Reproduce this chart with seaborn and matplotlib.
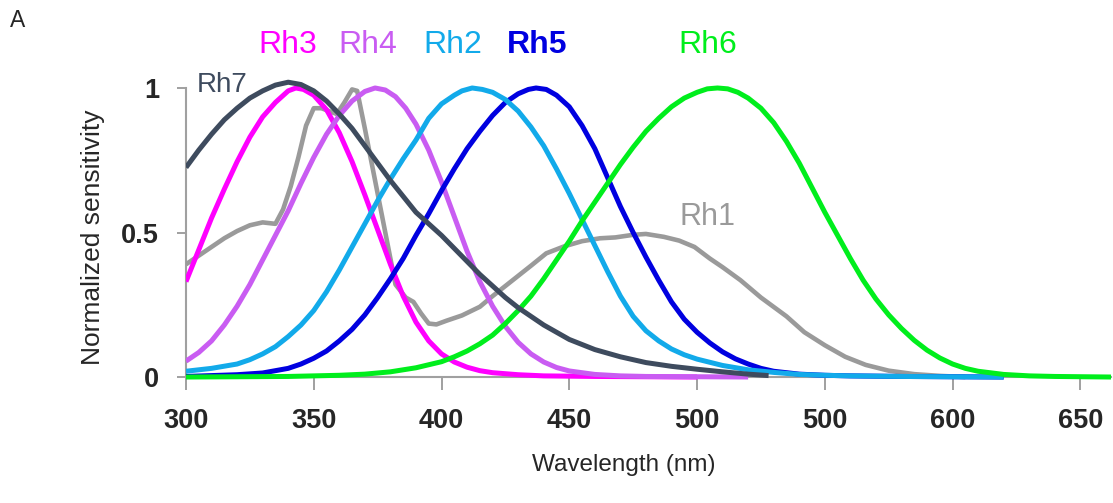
import pandas as pd
import matplotlib
matplotlib.use("Agg")
import matplotlib.pyplot as plt
import seaborn as sns

# Values (wavelength in nm, normalized sensitivity)
rh1_wl = [300, 305, 310, 315, 320, 325, 330, 335, 338, 341, 344, 347, 350, 353, 356, 359,
          362, 365, 367, 370, 374, 378, 382, 386, 389, 392, 395, 398, 402, 408, 415, 420,
          428, 435, 441, 448, 455, 462, 468, 475, 480, 487, 493, 499, 505, 510, 517, 525,
          535, 542, 550, 558, 566, 575, 585, 595, 605]
rh1_val = [0.39, 0.42, 0.45, 0.48, 0.505, 0.525, 0.535, 0.53, 0.58, 0.66, 0.76, 0.87, 0.93, 0.93, 0.92, 0.91,
           0.95, 0.995, 0.99, 0.86, 0.68, 0.50, 0.32, 0.275, 0.26, 0.22, 0.185, 0.182, 0.195, 0.213, 0.243, 0.28,
           0.336, 0.385, 0.428, 0.452, 0.47, 0.48, 0.483, 0.492, 0.495, 0.485, 0.472, 0.45, 0.41, 0.38, 0.335, 0.275,
           0.21, 0.155, 0.11, 0.07, 0.042, 0.022, 0.01, 0.004, 0.0]

rh3_wl = [300, 305, 310, 315, 320, 325, 330, 335, 340, 343, 346, 350, 355, 360, 365, 370,
          375, 380, 385, 390, 395, 400, 405, 410, 415, 420, 430, 440, 460, 480, 500]
rh3_val = [0.33, 0.44, 0.55, 0.65, 0.745, 0.83, 0.90, 0.95, 0.99, 1.0, 0.995, 0.975, 0.925, 0.845, 0.745, 0.63,
           0.51, 0.39, 0.28, 0.19, 0.125, 0.08, 0.052, 0.034, 0.022, 0.015, 0.008, 0.004, 0.002, 0.001, 0.0]

rh4_wl = [300, 305, 310, 315, 320, 325, 330, 335, 340, 345, 350, 355, 360, 365, 370, 374,
          378, 382, 386, 390, 395, 400, 405, 410, 415, 420, 425, 430, 435, 440, 445, 450,
          460, 470, 480, 500, 520]
rh4_val = [0.055, 0.085, 0.125, 0.18, 0.245, 0.32, 0.405, 0.49, 0.575, 0.67, 0.76, 0.84, 0.905, 0.955, 0.988, 1.0,
           0.993, 0.97, 0.93, 0.875, 0.785, 0.675, 0.555, 0.435, 0.33, 0.245, 0.175, 0.12, 0.08, 0.052, 0.033, 0.021,
           0.009, 0.004, 0.002, 0.001, 0.0]

rh2_wl = [300, 310, 320, 325, 330, 335, 340, 345, 350, 355, 360, 365, 370, 375, 380, 385,
          390, 395, 400, 405, 408, 412, 416, 420, 425, 430, 435, 440, 445, 450, 455, 460,
          465, 470, 475, 480, 485, 490, 495, 500, 510, 520, 530, 540, 550, 560, 580, 600, 620]
rh2_val = [0.02, 0.03, 0.045, 0.06, 0.08, 0.105, 0.14, 0.18, 0.23, 0.295, 0.37, 0.45, 0.53, 0.61, 0.685, 0.755,
           0.82, 0.895, 0.945, 0.975, 0.99, 1.0, 0.995, 0.985, 0.96, 0.92, 0.865, 0.80, 0.72, 0.635, 0.545, 0.455,
           0.365, 0.28, 0.21, 0.16, 0.125, 0.097, 0.077, 0.062, 0.04, 0.025, 0.016, 0.009, 0.006, 0.004, 0.002, 0.001, 0.0]

rh5_wl = [300, 310, 320, 330, 340, 345, 350, 355, 360, 365, 370, 375, 380, 385, 390, 395,
          400, 405, 410, 415, 420, 425, 430, 434, 437, 441, 445, 450, 455, 460, 465, 470,
          475, 480, 485, 490, 495, 500, 505, 510, 515, 520, 525, 530, 540, 550, 560, 580, 600, 620]
rh5_val = [0.002, 0.005, 0.008, 0.014, 0.03, 0.045, 0.065, 0.09, 0.125, 0.165, 0.215, 0.275, 0.34, 0.41, 0.49, 0.565,
           0.645, 0.72, 0.79, 0.85, 0.905, 0.95, 0.98, 0.995, 1.0, 0.995, 0.975, 0.935, 0.87, 0.79, 0.69, 0.59,
           0.50, 0.415, 0.335, 0.26, 0.20, 0.155, 0.118, 0.087, 0.063, 0.045, 0.03, 0.02, 0.01, 0.006, 0.004, 0.002, 0.001, 0.0]

rh6_wl = [300, 320, 340, 360, 370, 380, 390, 400, 405, 410, 415, 420, 425, 430, 435, 440,
          445, 450, 455, 460, 465, 470, 475, 480, 485, 490, 495, 500, 504, 508, 512, 516,
          520, 525, 530, 535, 540, 545, 550, 555, 560, 565, 570, 575, 580, 585, 590, 595,
          600, 605, 610, 620, 630, 640, 662]
rh6_val = [0.0, 0.001, 0.002, 0.006, 0.01, 0.018, 0.032, 0.053, 0.07, 0.09, 0.115, 0.145, 0.185, 0.23, 0.28, 0.34,
           0.405, 0.47, 0.54, 0.605, 0.67, 0.735, 0.795, 0.85, 0.895, 0.935, 0.965, 0.985, 0.997, 1.0, 0.997, 0.985,
           0.965, 0.93, 0.88, 0.815, 0.74, 0.655, 0.57, 0.49, 0.41, 0.335, 0.27, 0.215, 0.168, 0.127, 0.093, 0.066,
           0.045, 0.03, 0.02, 0.009, 0.004, 0.002, 0.0]

rh7_wl = [300, 305, 310, 315, 320, 325, 330, 335, 340, 345, 350, 355, 360, 365, 370, 375,
          380, 385, 390, 395, 400, 405, 410, 415, 420, 425, 430, 435, 440, 445, 450, 460,
          470, 480, 490, 500, 510, 520, 528]
rh7_val = [0.725, 0.785, 0.84, 0.89, 0.93, 0.965, 0.99, 1.01, 1.02, 1.012, 0.99, 0.955, 0.91, 0.86, 0.80, 0.74,
           0.68, 0.625, 0.57, 0.53, 0.49, 0.445, 0.40, 0.355, 0.315, 0.275, 0.24, 0.21, 0.18, 0.155, 0.13, 0.095,
           0.07, 0.05, 0.037, 0.027, 0.018, 0.01, 0.005]

opsins = ["Rh1", "Rh3", "Rh4", "Rh5", "Rh2", "Rh6", "Rh7"]
colors = {"Rh1": "#9a9a9a", "Rh3": "#ff00ff", "Rh4": "#c95cf2", "Rh5": "#0000e0",
          "Rh2": "#12aaea", "Rh6": "#00ee1c", "Rh7": "#3e4b5e"}

xtick_vals = [300, 350, 400, 450, 500, 550, 600, 650]
xtick_labels = ["300", "350", "400", "450", "500", "500", "600", "650"]
ytick_vals = [0, 0.5, 1]
ytick_labels = ["0", "0.5", "1"]

curves = {"Rh1": (rh1_wl, rh1_val), "Rh3": (rh3_wl, rh3_val), "Rh4": (rh4_wl, rh4_val),
          "Rh5": (rh5_wl, rh5_val), "Rh2": (rh2_wl, rh2_val), "Rh6": (rh6_wl, rh6_val),
          "Rh7": (rh7_wl, rh7_val)}
df = pd.concat([pd.DataFrame({"wavelength": wl, "sensitivity": v, "opsin": name})
                for name, (wl, v) in curves.items()], ignore_index=True)

sns.set_style("ticks")
plt.rcParams["font.family"] = ["Liberation Sans", "DejaVu Sans"]

fig = plt.figure(figsize=(11.13, 5.03), dpi=100)
ax = fig.add_axes([0.1671, 0.2332, 0.8311, 0.7068])

sns.lineplot(data=df, x="wavelength", y="sensitivity", hue="opsin", hue_order=opsins,
             palette=colors, linewidth=3.6, estimator=None, sort=False, legend=False, ax=ax)
for line in ax.get_lines():
    line.set_solid_capstyle("butt")
    line.set_solid_joinstyle("round")
    if line.get_color() == "#9a9a9a":
        line.set_linewidth(3.3)

ax.set_xlim(300, 662)
ax.set_ylim(-0.03, 1.2)
ax.spines["top"].set_visible(False)
ax.spines["right"].set_visible(False)
ax.spines["bottom"].set_position(("data", 0))
ax.spines["left"].set_bounds(0, 1)
for s in ("left", "bottom"):
    ax.spines[s].set_color("#a0a0a0")
    ax.spines[s].set_linewidth(1.5)
    ax.spines[s].set_zorder(0)

ax.set_xticks(xtick_vals)
ax.set_xticklabels(xtick_labels, fontsize=19.5, fontweight="bold")
ax.set_yticks(ytick_vals)
ax.set_yticklabels(ytick_labels, fontsize=19.5, fontweight="bold")
ax.tick_params(axis="x", length=9.4, width=1.4, color="#a0a0a0", pad=13)
ax.tick_params(axis="y", length=6.5, width=1.4, color="#a0a0a0", pad=13)

ax.set_xlabel("Wavelength (nm)", fontsize=17.5)
ax.xaxis.set_label_coords(0.4735, -0.223)
ax.xaxis.label.set_verticalalignment("center")
ax.set_ylabel("Normalized sensitivity", fontsize=19)
ax.yaxis.set_label_coords(-0.1005, 0.417)
ax.yaxis.label.set_verticalalignment("center")

# curve names
label_pos = {"Rh3": (339.9, 1.149), "Rh4": (371.2, 1.149), "Rh2": (404.5, 1.149),
             "Rh5": (437.4, 1.149), "Rh6": (504.3, 1.149), "Rh7": (314.1, 1.01),
             "Rh1": (503.9, 0.554)}
label_size = {"Rh7": 20, "Rh1": 22}
for name, (lx, ly) in label_pos.items():
    ax.text(lx, ly, name, color=colors[name], fontsize=label_size.get(name, 23),
            fontweight="bold" if name == "Rh5" else "normal",
            ha="center", va="center", clip_on=False)

fig.text(0.0157, 0.960, "A", fontsize=16.5, ha="center", va="center")

fig.savefig("out.png", dpi=100)
